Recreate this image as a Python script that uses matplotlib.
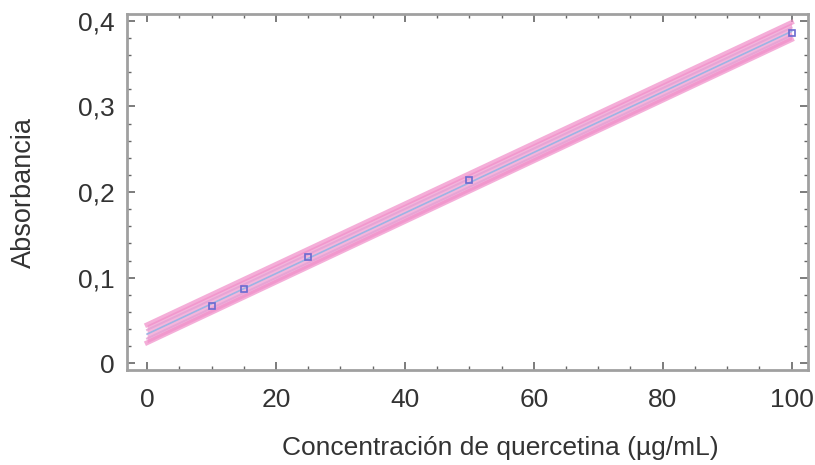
import numpy as np
import matplotlib
matplotlib.use("Agg")
import matplotlib.pyplot as plt
from matplotlib.ticker import MultipleLocator, FuncFormatter

plt.rcParams['font.family'] = ['Liberation Sans', 'DejaVu Sans']

# puntos de calibracion
conc = [10, 15, 25, 50, 100]
absb = [0.067, 0.0866, 0.124, 0.214, 0.386]

lim_x = [0, 100]
pred_lo = [0.024, 0.378]
pred_hi = [0.045, 0.398]
conf_lo = [0.029, 0.383]
conf_hi = [0.039, 0.392]

m, b = np.polyfit(conc, absb, 1)
xx = np.linspace(0, 100, 50)
yy = m * xx + b
plo = np.interp(xx, lim_x, pred_lo); phi = np.interp(xx, lim_x, pred_hi)
clo = np.interp(xx, lim_x, conf_lo); chi = np.interp(xx, lim_x, conf_hi)

fig = plt.figure(figsize=(8.15, 4.65), dpi=100)
ax = fig.add_axes([0.156, 0.204, 0.835, 0.766])

ax.fill_between(xx, plo, phi, color="#f3a9d6", lw=0, alpha=0.85)
ax.plot(xx, plo, color="#f08cc8", lw=3.5, alpha=0.7)
ax.plot(xx, phi, color="#f08cc8", lw=3.5, alpha=0.7)
ax.plot(xx, clo, color="#e4a0d4", lw=1.5, alpha=0.8)
ax.plot(xx, chi, color="#e4a0d4", lw=1.5, alpha=0.8)
ax.plot(xx, yy, color="#9cb4e4", lw=1.2)
ax.plot(conc, absb, ls="none", marker="s", ms=5, mfc="none", mec="#6a6ad0", mew=1.2)

ax.set_xlim(-3.1, 102.5)
ax.set_ylim(-0.008, 0.408)
ax.xaxis.set_major_locator(MultipleLocator(20))
ax.xaxis.set_minor_locator(MultipleLocator(5))
ax.yaxis.set_major_locator(MultipleLocator(0.1))
ax.yaxis.set_minor_locator(MultipleLocator(0.02))
ax.yaxis.set_major_formatter(FuncFormatter(lambda v, p: "0" if abs(v) < 1e-9 else f"{v:.1f}".replace(".", ",")))
ax.tick_params(which="both", direction="in", top=True, right=True, color="#666666",
               labelsize=19, labelcolor="#333333")
ax.tick_params(which="major", length=6, width=1.2, pad=9)
ax.tick_params(axis="x", which="major", pad=13)
ax.tick_params(which="minor", length=3, width=1)
for s in ax.spines.values():
    s.set_color("#a0a0a0"); s.set_linewidth(2)

ax.set_ylabel("Absorbancia", fontsize=19.5, color="#333333")
ax.yaxis.set_label_coords(-0.132, 0.5)
ax.set_xlabel("Concentración de quercetina (µg/mL)", fontsize=19, color="#333333")
ax.xaxis.set_label_coords(0.548, -0.186)

fig.savefig("out.png", dpi=100)
